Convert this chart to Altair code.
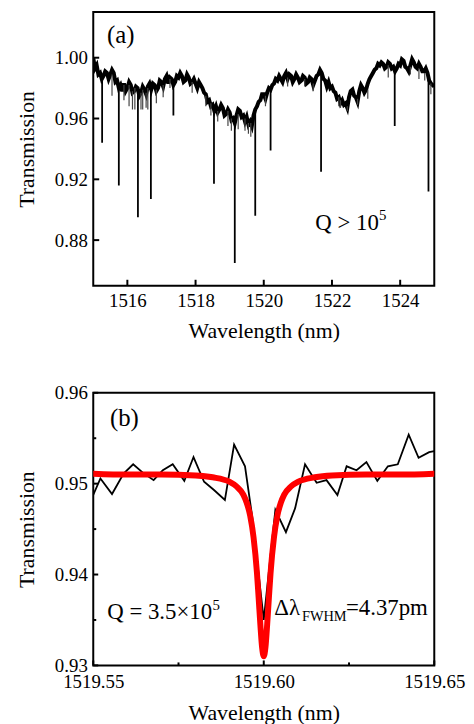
import altair as alt
import pandas as pd

FONT = "Liberation Serif"

# ---------------- Panel (a) data ----------------
lam_a = [round(1515.0 + 0.05 * i, 2) for i in range(201)]
t_a = [
    1.000, 0.993, 0.995, 0.989, 0.990, 0.986, 0.988, 0.991, 0.990, 0.986,
    0.989, 0.992, 0.990, 0.984, 0.985, 0.980, 0.982, 0.978, 0.983, 0.978,
    0.980, 0.984, 0.982, 0.977, 0.978, 0.981, 0.980, 0.975, 0.977, 0.981,
    0.979, 0.976, 0.981, 0.983, 0.979, 0.983, 0.982, 0.978, 0.980, 0.985,
    0.984, 0.981, 0.986, 0.988, 0.983, 0.987, 0.986, 0.982, 0.984, 0.988,
    0.987, 0.990, 0.988, 0.984, 0.985, 0.989, 0.987, 0.983, 0.984, 0.986,
    0.983, 0.980, 0.984, 0.982, 0.980, 0.977, 0.976, 0.971, 0.972, 0.968,
    0.969, 0.965, 0.968, 0.964, 0.966, 0.969, 0.967, 0.962, 0.963, 0.966,
    0.964, 0.959, 0.960, 0.957, 0.962, 0.966, 0.965, 0.961, 0.962, 0.958,
    0.961, 0.956, 0.958, 0.955, 0.962, 0.966, 0.968, 0.971, 0.972, 0.976,
    0.976, 0.973, 0.977, 0.980, 0.979, 0.982, 0.983, 0.986, 0.985, 0.988,
    0.986, 0.984, 0.988, 0.990, 0.986, 0.989, 0.988, 0.984, 0.986, 0.989,
    0.987, 0.984, 0.985, 0.988, 0.987, 0.983, 0.984, 0.987, 0.986, 0.982,
    0.985, 0.988, 0.989, 0.992, 0.990, 0.986, 0.985, 0.981, 0.984, 0.980,
    0.981, 0.978, 0.977, 0.973, 0.974, 0.970, 0.972, 0.969, 0.970, 0.967,
    0.974, 0.978, 0.979, 0.975, 0.974, 0.971, 0.978, 0.982, 0.980, 0.977,
    0.979, 0.983, 0.986, 0.988, 0.990, 0.992, 0.993, 0.996, 0.995, 0.997,
    0.996, 0.993, 0.994, 0.997, 0.996, 0.993, 0.994, 0.991, 0.993, 0.996,
    0.995, 0.999, 0.998, 0.994, 0.993, 0.991, 0.995, 0.999, 0.997, 0.994,
    0.993, 0.996, 0.994, 0.991, 0.991, 0.993, 0.990, 0.985, 0.983, 0.982,
    0.981]

dip_lam = [1515.26, 1515.75, 1516.31, 1516.69, 1517.35, 1518.54, 1519.15,
           1519.75, 1520.20, 1521.68, 1523.84, 1524.83]
dip_top = [0.987, 0.981, 0.979, 0.980, 0.984, 0.968, 0.959, 0.965, 0.979,
           0.990, 0.993, 0.988]
dip_bot = [0.944, 0.916, 0.895, 0.907, 0.962, 0.917, 0.865, 0.896, 0.939,
           0.925, 0.955, 0.912]

minor_lam = [1515.55, 1515.9, 1516.05, 1516.15, 1516.22, 1516.4, 1516.45,
             1516.55, 1516.6, 1516.85, 1517.05, 1517.25, 1517.9, 1518.3,
             1518.45, 1518.65, 1518.95, 1519.05, 1519.25, 1519.45, 1519.55,
             1519.62, 1520.05, 1520.7, 1521.2, 1521.45, 1522.2, 1522.25,
             1522.45, 1522.75, 1523.05, 1523.65, 1524.3, 1524.55, 1524.72,
             1524.9]
minor_top = [0.989, 0.982, 0.982, 0.978, 0.980, 0.977, 0.979, 0.977, 0.980,
             0.979, 0.982, 0.986, 0.984, 0.975, 0.970, 0.965, 0.965, 0.960,
             0.963, 0.960, 0.957, 0.957, 0.975, 0.987, 0.986, 0.983, 0.974,
             0.972, 0.968, 0.973, 0.979, 0.995, 0.994, 0.993, 0.990, 0.983]
minor_bot = [0.975, 0.972, 0.968, 0.966, 0.966, 0.966, 0.966, 0.967, 0.966,
             0.970, 0.974, 0.980, 0.977, 0.968, 0.962, 0.958, 0.955, 0.952,
             0.953, 0.952, 0.950, 0.948, 0.968, 0.981, 0.981, 0.978, 0.968,
             0.967, 0.965, 0.969, 0.973, 0.987, 0.989, 0.986, 0.985, 0.976]

xa_ticks = [1516, 1518, 1520, 1522, 1524]
ya_ticks = [0.88, 0.92, 0.96, 1.00]

# ---------------- Panel (b) data ----------------
lam_b = [1519.5500, 1519.5521, 1519.5555, 1519.5589, 1519.5617, 1519.5646,
         1519.5677, 1519.5704, 1519.5733, 1519.5767, 1519.5794, 1519.5825,
         1519.5854, 1519.5886, 1519.5913, 1519.5945, 1519.5966, 1519.6000,
         1519.6034, 1519.6065, 1519.6092, 1519.6121, 1519.6155, 1519.6184,
         1519.6216, 1519.6243, 1519.6272, 1519.6301, 1519.6333, 1519.6364,
         1519.6393, 1519.6425, 1519.6454, 1519.6485, 1519.6500]
t_b = [0.94875, 0.95057, 0.94886, 0.95111, 0.95213, 0.95119, 0.95039,
       0.95148, 0.95213, 0.95031, 0.95293, 0.95021, 0.94930, 0.94821,
       0.95430, 0.95191, 0.94640, 0.93500, 0.94712, 0.94466, 0.94730,
       0.95213, 0.95010, 0.95039, 0.94875, 0.95191, 0.95148, 0.95238,
       0.95031, 0.95191, 0.95213, 0.95539, 0.95285, 0.95347, 0.95358]

lam_fit = [1519.550, 1519.560, 1519.570, 1519.580, 1519.585, 1519.590,
           1519.592, 1519.594, 1519.595, 1519.596, 1519.597, 1519.598,
           1519.5985, 1519.599, 1519.5995, 1519.600, 1519.6005, 1519.601,
           1519.6015, 1519.602, 1519.603, 1519.604, 1519.605, 1519.606,
           1519.608, 1519.610, 1519.615, 1519.620, 1519.630, 1519.640,
           1519.650]
t_fit = [0.9511, 0.9510, 0.9510, 0.9509, 0.9507, 0.9502, 0.9497, 0.9488,
         0.9479, 0.9465, 0.9441, 0.9402, 0.9374, 0.9345, 0.9320, 0.9310,
         0.9320, 0.9345, 0.9374, 0.9402, 0.9441, 0.9465, 0.9479, 0.9488,
         0.9497, 0.9502, 0.9507, 0.9509, 0.9510, 0.9510, 0.9511]

xb_major = [1519.55, 1519.60, 1519.65]
xb_minor = [1519.575, 1519.625]
yb_major = [0.93, 0.94, 0.95, 0.96]
yb_minor = [0.935, 0.945, 0.955]

W = 344
HA = 276
HB = 275


def make_axes(xvals, xfmt, xpad, xtpad, yvals, yfmt):
    ax = alt.Axis(values=xvals, format=xfmt, title="Wavelength (nm)",
                  labelPadding=xpad, titlePadding=xtpad, labelFlush=False)
    ay = alt.Axis(values=yvals, format=yfmt, title="Transmission",
                  labelPadding=6, titlePadding=16)
    return ax, ay


def xticks(values, scale, ax, h, length, width):
    return alt.Chart(pd.DataFrame({"x": values})).mark_rule(
        color="black", strokeWidth=width).encode(
        x=alt.X("x:Q", scale=scale, axis=ax),
        y=alt.value(h), y2=alt.value(h - length))


def yticks(values, scale, ay, length, width):
    return alt.Chart(pd.DataFrame({"y": values})).mark_rule(
        color="black", strokeWidth=width).encode(
        y=alt.Y("y:Q", scale=scale, axis=ay),
        x=alt.value(0), x2=alt.value(length))


def label(text, x, y, xs, ys, ax, ay, size=23, baseline="alphabetic"):
    return alt.Chart(pd.DataFrame({"_": [0]})).mark_text(
        text=text, font=FONT, fontSize=size, align="left",
        baseline=baseline, color="black").encode(
        x=alt.X(datum=x, scale=xs, axis=ax),
        y=alt.Y(datum=y, scale=ys, axis=ay))


# ---------------- Panel (a) ----------------
xa = alt.Scale(domain=[1515, 1525], nice=False, zero=False)
ya = alt.Scale(domain=[0.85, 1.03], nice=False, zero=False)
axa_x, axa_y = make_axes(xa_ticks, "d", 6, 10, ya_ticks, ".2f")

df_a = pd.DataFrame({"x": lam_a, "y": t_a})
df_dip = pd.DataFrame({"x": dip_lam, "y": dip_top, "y2": dip_bot})
df_min = pd.DataFrame({"x": minor_lam, "y": minor_top, "y2": minor_bot})

band = alt.Chart(df_a).mark_line(color="black", strokeWidth=4, clip=True).encode(
    x=alt.X("x:Q", scale=xa, axis=axa_x),
    y=alt.Y("y:Q", scale=ya, axis=axa_y))
minor = alt.Chart(df_min).mark_rule(color="#444444", strokeWidth=1.2, clip=True).encode(
    x=alt.X("x:Q", scale=xa, axis=axa_x),
    y=alt.Y("y:Q", scale=ya, axis=axa_y), y2="y2:Q")
dips = alt.Chart(df_dip).mark_rule(color="black", strokeWidth=1.8, clip=True).encode(
    x=alt.X("x:Q", scale=xa, axis=axa_x),
    y=alt.Y("y:Q", scale=ya, axis=axa_y), y2="y2:Q")

panel_a = alt.layer(
    band, minor, dips,
    xticks(xa_ticks, xa, axa_x, HA, 6, 2),
    yticks(ya_ticks, ya, axa_y, 6, 2),
    label("(a)", 1515.40, 1.0152, xa, ya, axa_x, axa_y, 25, "middle"),
    label("Q > 10", 1521.51, 0.8865, xa, ya, axa_x, axa_y, 23),
    label("5", 1523.38, 0.8932, xa, ya, axa_x, axa_y, 15),
).properties(width=W, height=HA)

# ---------------- Panel (b) ----------------
xb = alt.Scale(domain=[1519.55, 1519.65], nice=False, zero=False)
yb = alt.Scale(domain=[0.93, 0.96], nice=False, zero=False)
axb_x, axb_y = make_axes(xb_major, ".2f", 7, 12, yb_major, ".2f")

df_b = pd.DataFrame({"x": lam_b, "y": t_b})
df_fit = pd.DataFrame({"x": lam_fit, "y": t_fit})

data_b = alt.Chart(df_b).mark_line(color="black", strokeWidth=1.8, clip=True).encode(
    x=alt.X("x:Q", scale=xb, axis=axb_x),
    y=alt.Y("y:Q", scale=yb, axis=axb_y))
fit_b = alt.Chart(df_fit).mark_line(color="#ff0000", strokeWidth=6, clip=True,
                                    strokeCap="round",
                                    interpolate="monotone").encode(
    x=alt.X("x:Q", scale=xb, axis=axb_x),
    y=alt.Y("y:Q", scale=yb, axis=axb_y))

panel_b = alt.layer(
    data_b, fit_b,
    xticks(xb_major, xb, axb_x, HB, 5, 2),
    xticks(xb_minor, xb, axb_x, HB, 3, 2),
    yticks(yb_major, yb, axb_y, 5, 2),
    yticks(yb_minor, yb, axb_y, 3, 2),
    label("(b)", 1519.5549, 0.95717, xb, yb, axb_x, axb_y, 25, "middle"),
    label("Q = 3.5\u00d710", 1519.5541, 0.93506, xb, yb, axb_x, axb_y, 23),
    label("5", 1519.5850, 0.93615, xb, yb, axb_x, axb_y, 15),
    label("\u0394\u03bb", 1519.6031, 0.93550, xb, yb, axb_x, axb_y, 23),
    label("FWHM", 1519.6112, 0.93485, xb, yb, axb_x, axb_y, 14.5),
    label("=4.37pm", 1519.6241, 0.93550, xb, yb, axb_x, axb_y, 23),
).properties(width=W, height=HB)

chart = alt.vconcat(panel_a, panel_b, spacing=41).properties(
    padding={"left": 6, "top": 0, "right": 0, "bottom": 0}
).configure_view(stroke="black", strokeWidth=2).configure_axis(
    ticks=False, tickSize=0, domain=False, grid=False,
    labelFont=FONT, labelFontSize=19, labelColor="black",
    titleFont=FONT, titleFontSize=22, titleFontWeight="normal", titleColor="black"
)

chart.save("out.html", embed_options={"renderer": "svg", "actions": False})
